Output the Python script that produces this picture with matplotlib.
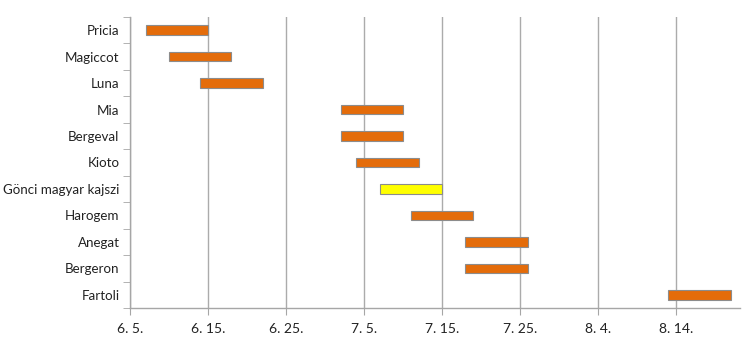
import datetime as dt
import matplotlib
matplotlib.use("Agg")
import matplotlib.pyplot as plt
import matplotlib.dates as mdates

# fajták érési ideje (kezdet, napok száma)
fajtak = ["Pricia", "Magiccot", "Luna", "Mia", "Bergeval", "Kioto",
          "Gönci magyar kajszi", "Harogem", "Anegat", "Bergeron", "Fartoli"]
kezdet = ["2013-06-07", "2013-06-10", "2013-06-14", "2013-07-02", "2013-07-02", "2013-07-04",
          "2013-07-07", "2013-07-11", "2013-07-18", "2013-07-18", "2013-08-13"]
hossz = [8, 8, 8, 8, 8, 8, 8, 8, 8, 8, 8]
szinek = ["#E46C0A"] * 6 + ["#FFFF00"] + ["#E46C0A"] * 4
tick_datumok = ["2013-06-05", "2013-06-15", "2013-06-25", "2013-07-05",
                "2013-07-15", "2013-07-25", "2013-08-04", "2013-08-14"]

plt.rcParams['font.family'] = ['Lato', 'DejaVu Sans']

fig = plt.figure(figsize=(7.5, 3.38), dpi=100)
ax = fig.add_axes([0.1733, 0.0888, 0.8134, 0.8609])

starts = [mdates.date2num(dt.datetime.strptime(k, "%Y-%m-%d")) for k in kezdet]
ypos = list(range(len(fajtak)))
ax.barh(ypos, hossz, left=starts, height=0.36, color=szinek,
        edgecolor="#8C8C8C", linewidth=0.8, zorder=3)

datumok = [dt.datetime.strptime(t, "%Y-%m-%d") for t in tick_datumok]
ticks = [mdates.date2num(d) for d in datumok]
ax.set_xticks(ticks)
ax.set_xticklabels([f"{d.month}. {d.day}." for d in datumok])
ax.set_xlim(ticks[0], ticks[0] + 78.2)
ax.grid(axis="x", color="#ABABAB", linewidth=1.0, zorder=0)

ax.set_yticks(ypos)
ax.set_yticklabels(fajtak)
ax.set_yticks([y - 0.5 for y in range(len(fajtak) + 1)], minor=True)
ax.set_ylim(len(fajtak) - 0.5, -0.5)

ax.tick_params(axis="y", which="major", length=0, pad=7.5, labelsize=9.6, labelcolor="#222222")
ax.tick_params(axis="y", which="minor", length=5, color="#A6A6A6", direction="out")
ax.tick_params(axis="x", length=5, color="#A6A6A6", labelsize=10, pad=6, labelcolor="#222222")

for s in ["top", "right"]:
    ax.spines[s].set_visible(False)
for s in ["left", "bottom"]:
    ax.spines[s].set_color("#A6A6A6")
    ax.spines[s].set_linewidth(1.0)

fig.savefig("out.png", dpi=100)
